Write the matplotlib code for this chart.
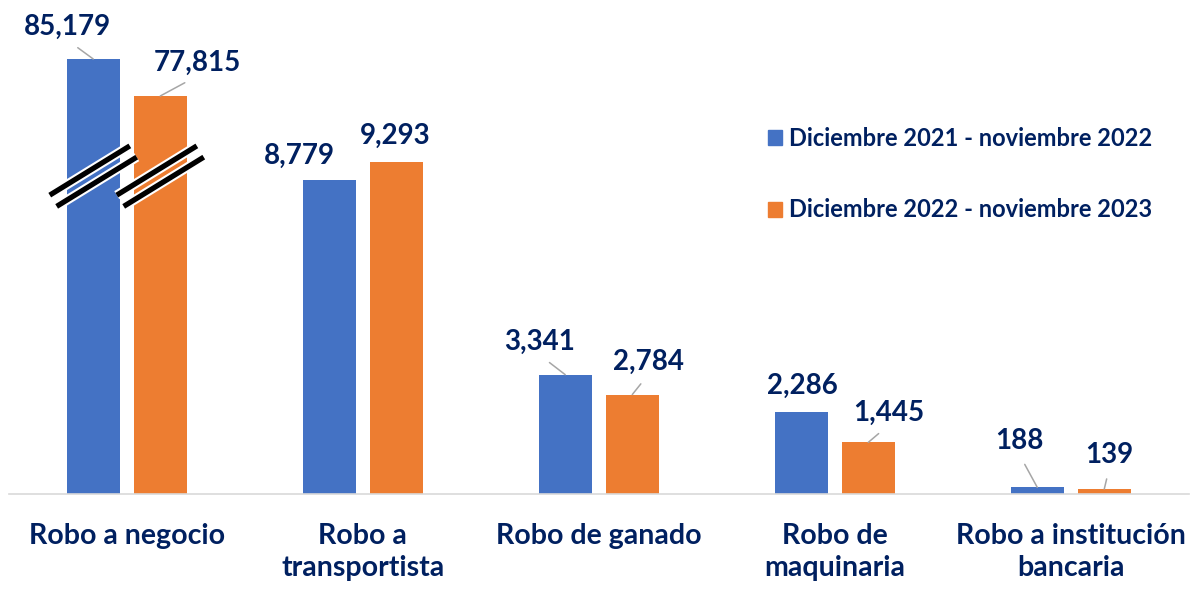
"""Robos: comparativo de dos periodos, con eje cortado en Robo a negocio"""

import matplotlib

matplotlib.use("Agg")
import matplotlib.pyplot as plt
import matplotlib.patheffects as pe
import matplotlib.transforms as mtransforms
from matplotlib.patches import Patch
import numpy as np

categories = [
    "Robo a negocio",
    "Robo a\ntransportista",
    "Robo de ganado",
    "Robo de\nmaquinaria",
    "Robo a institución\nbancaria",
]
series_names = [
    "Diciembre 2021 - noviembre 2022",
    "Diciembre 2022 - noviembre 2023",
]
periodo_2022 = [85179, 8779, 3341, 2286, 188]
periodo_2023 = [77815, 9293, 2784, 1445, 139]

BLUE = "#4472C4"
ORANGE = "#ED7D31"
NAVY = "#002060"
GRID = "#D9D9D9"
LEADER = "#A6A6A6"

plt.rcParams["font.family"] = ["Lato", "DejaVu Sans"]
plt.rcParams["font.weight"] = "bold"

# label offsets in pixels (dx, dy up) and whether a leader line is drawn
offsets_2022 = [(-26, 32, True), (-30, 25, False), (-26, 33, True), (1, 26, False), (-18, 46, True)]
offsets_2023 = [(37, 33, True), (-1, 26, False), (16, 33, True), (20, 30, True), (5, 34, True)]

W, H = 1193, 589
fig = plt.figure(figsize=(W / 100, H / 100), dpi=100)

left, right_px = 8.75, 1188.75
base_px, split_px = 494, 120
ax = fig.add_axes([left / W, (H - base_px) / H, (right_px - left) / W, (base_px - split_px) / H])
ax_top = fig.add_axes([left / W, (H - split_px) / H, (right_px - left) / W, split_px / H])

x = np.arange(len(categories))
width = 0.225
shift = 0.142
units_per_px = 28
low_top = (base_px - split_px) * units_per_px
top_units_per_px = 199
top_low = periodo_2022[0] - (split_px - 59) * top_units_per_px
top_high = top_low + split_px * top_units_per_px

for axis in (ax, ax_top):
    axis.bar(x - shift, periodo_2022, width, color=BLUE, zorder=2)
    axis.bar(x + shift, periodo_2023, width, color=ORANGE, zorder=2)
    axis.set_xlim(-0.5, len(categories) - 0.5)
    for side in ("top", "right", "left", "bottom"):
        axis.spines[side].set_visible(False)
    axis.set_yticks([])
    axis.patch.set_alpha(0)

ax.set_ylim(0, low_top)
ax_top.set_ylim(top_low, top_high)
ax_top.set_xticks([])
ax.spines["bottom"].set_visible(True)
ax.spines["bottom"].set_color(GRID)
ax.spines["bottom"].set_linewidth(1.2)

ax.set_xticks(x)
ax.set_xticklabels(categories, fontsize=20.5, color=NAVY, fontweight="bold", linespacing=1.3)
ax.tick_params(axis="x", length=0, pad=21)


def label_bar(values, offs, sign):
    for i, (val, (dx, dy, leader)) in enumerate(zip(values, offs)):
        target = ax_top if val > low_top else ax
        arrow = None
        if leader:
            arrow = dict(arrowstyle="-", color=LEADER, lw=1.1, shrinkA=6, shrinkB=0, relpos=(0.5, 0.0))
        target.annotate(
            f"{val:,}",
            xy=(x[i] + sign * shift, val),
            xytext=(dx * 0.72, dy * 0.72),
            textcoords="offset points",
            ha="center",
            va="center",
            fontsize=20,
            fontweight="bold",
            color=NAVY,
            arrowprops=arrow,
            annotation_clip=False,
            zorder=5,
        )


label_bar(periodo_2022, offsets_2022, -1)
label_bar(periodo_2023, offsets_2023, 1)

# break marks across the first group
fig.canvas.draw()
BREAK_AT = 8900
angle = np.deg2rad(31.6)
d = np.array([np.cos(angle), np.sin(angle)])
n = np.array([np.sin(angle), -np.cos(angle)])
for xc in (x[0] - shift, x[0] + shift):
    c = ax.transData.transform((xc, BREAK_AT))
    for k in (-1, 1):
        p0 = c - 47 * d + k * 6.6 * n
        p1 = c + 47 * d + k * 6.6 * n
        ax.plot(
            [p0[0], p1[0]], [p0[1], p1[1]],
            color="black", lw=3.8, solid_capstyle="butt",
            transform=mtransforms.IdentityTransform(), clip_on=False, zorder=4,
            path_effects=[pe.Stroke(linewidth=6.8, foreground="white", capstyle="butt"), pe.Normal()],
        )

handles = [Patch(color=BLUE), Patch(color=ORANGE)]
fig.legend(
    handles, series_names,
    loc="upper left", bbox_to_anchor=(768 / W, 1 - 127 / H),
    frameon=False, handlelength=0.6, handleheight=0.6, handletextpad=0.3,
    labelspacing=2.05, borderpad=0, borderaxespad=0,
    prop=dict(family=["Lato", "DejaVu Sans"], weight="bold", size=17),
    labelcolor=NAVY,
)

fig.savefig("out.png", dpi=100)
